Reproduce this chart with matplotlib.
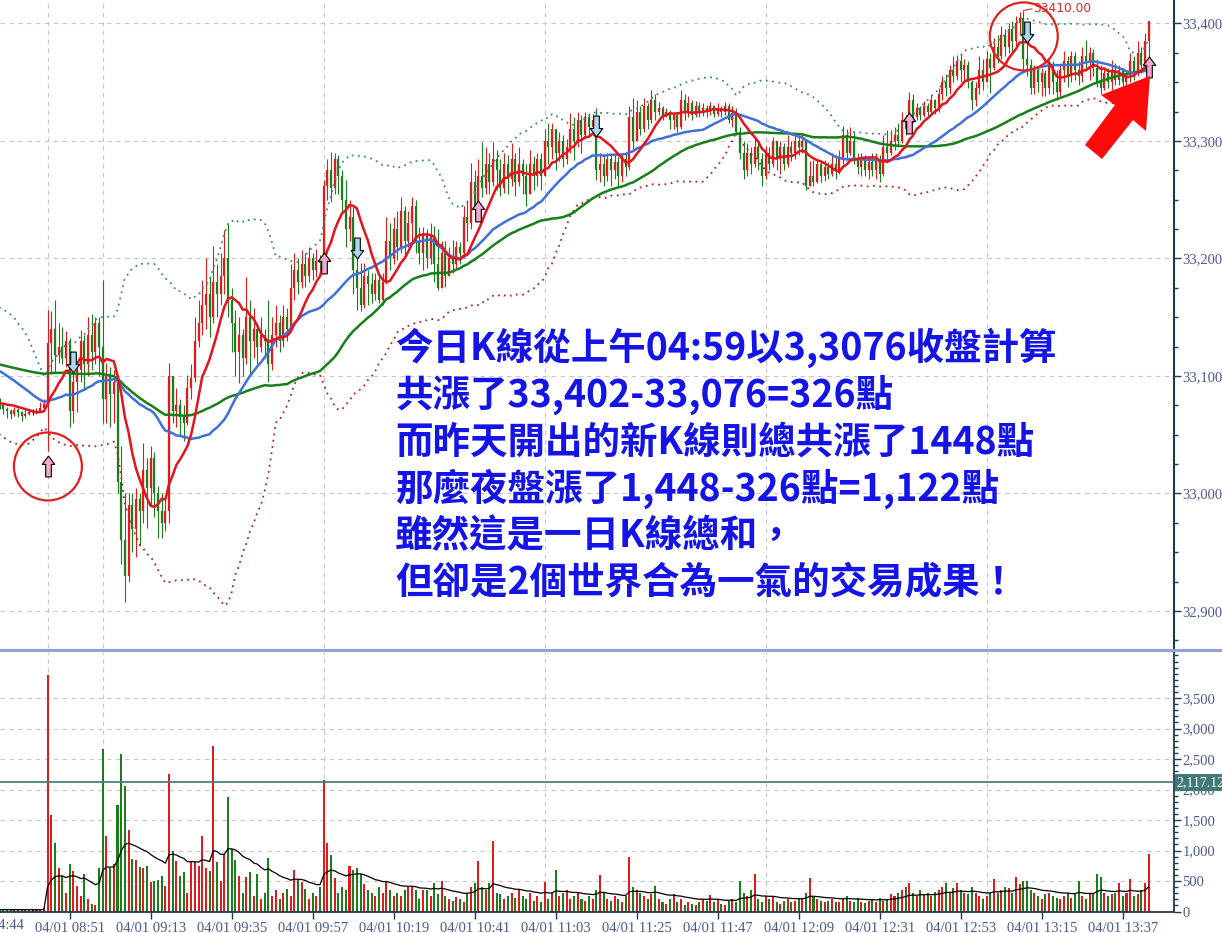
import numpy as np
import pandas as pd
import matplotlib
matplotlib.use('Agg')
import matplotlib.pyplot as plt
import matplotlib.transforms as mtransforms
from matplotlib.patches import Ellipse, Polygon
from matplotlib.path import Path
from matplotlib.lines import Line2D
from matplotlib.ticker import MultipleLocator, FuncFormatter

# closes before the visible window (only used to warm up the moving averages)
pre_close = [33110, 33118, 33112, 33120, 33115, 33108, 33116, 33122, 33114, 33119,
             33125, 33117, 33121, 33128, 33120, 33126, 33131, 33124, 33129, 33135,
             33130, 33136, 33141, 33134, 33138,
             33140, 33145, 33138, 33132, 33125, 33115, 33105, 33098, 33090, 33085,
             33080, 33083, 33078, 33075, 33079, 33072, 33076, 33080, 33074, 33078]

# 1-minute bars: night 04:45-04:59, day 08:45-13:44
close = [33078, 33080, 33076, 33072, 33070, 33068, 33071, 33069, 33066, 33068, 33069, 33069, 33070, 33073, 33076,
         33128, 33140, 33118, 33125, 33115, 33130, 33070, 33095, 33105, 33130, 33110, 33135, 33120, 33145, 33125,
         33080, 33100, 33085, 33095, 33010, 32960, 32930, 32990, 32970, 32995, 32985, 33020, 33005, 33030, 33000, 32985, 32975, 32985, 33100, 33070,
         33075, 33065, 33060, 33090, 33098, 33130, 33145, 33160, 33170, 33150, 33180, 33170, 33185, 33200, 33165, 33145, 33120, 33135, 33115, 33150,
         33130, 33140, 33125, 33135, 33130, 33110, 33135, 33145, 33130, 33150, 33140, 33175, 33190, 33180, 33195, 33185, 33200, 33190, 33198, 33196,
         33262, 33275, 33260, 33285, 33270, 33250, 33225, 33235, 33190, 33175, 33160, 33185, 33178, 33170, 33182, 33165, 33180, 33215, 33200, 33225,
         33210, 33240, 33215, 33230, 33245, 33215, 33205, 33220, 33200, 33220, 33195, 33175, 33205, 33185, 33200, 33195, 33210, 33205, 33235, 33230,
         33265, 33245, 33270, 33260, 33280, 33265, 33285, 33275, 33260, 33280, 33268, 33285, 33265, 33280, 33270, 33255, 33280, 33270, 33285, 33270,
         33300, 33295, 33310, 33290, 33300, 33285, 33295, 33310, 33300, 33318, 33305, 33320, 33312, 33318, 33275, 33280, 33270, 33285, 33275, 33282,
         33270, 33285, 33278, 33320, 33300, 33325, 33310, 33330, 33318, 33335, 33325, 33328, 33322, 33325, 33318, 33322, 33312, 33335, 33325, 33332,
         33322, 33330, 33324, 33328, 33325, 33330, 33323, 33328, 33325, 33330, 33318, 33324, 33308, 33290, 33275, 33290, 33280, 33295, 33285, 33270,
         33290, 33280, 33300, 33285, 33295, 33280, 33295, 33290, 33300, 33295, 33300, 33262, 33270, 33265, 33280, 33270, 33278, 33272, 33280, 33275,
         33285, 33305, 33290, 33300, 33285, 33278, 33285, 33275, 33282, 33275, 33285, 33272, 33295, 33290, 33300, 33305, 33300, 33318, 33310, 33335,
         33320, 33328, 33322, 33330, 33325, 33335, 33328, 33340, 33350, 33345, 33360, 33355, 33368, 33360, 33365, 33350, 33335, 33345, 33360, 33350,
         33370, 33362, 33380, 33372, 33390, 33380, 33395, 33385, 33400, 33405, 33370, 33365, 33345, 33360, 33350, 33358, 33345, 33365, 33350, 33342,
         33360, 33368, 33355, 33372, 33360, 33355, 33372, 33368, 33375, 33362, 33350, 33345, 33358, 33350, 33360, 33352, 33360, 33350, 33356, 33368,
         33358, 33375, 33365, 33385, 33402]

high = [33082, 33084, 33081, 33077, 33074, 33072, 33074, 33073, 33070, 33071, 33071, 33072, 33073, 33078, 33080,
        33156, 33155, 33165, 33145, 33142, 33138, 33132, 33113, 33108, 33139, 33135, 33150, 33153, 33150, 33150,
        33182, 33111, 33108, 33105, 33100, 33040, 33000, 33000, 33000, 33005, 33000, 33043, 33030, 33040, 33035, 33006, 33000, 32995, 33111, 33099,
        33090, 33080, 33075, 33101, 33110, 33150, 33165, 33182, 33200, 33185, 33211, 33195, 33205, 33224, 33230, 33175, 33156, 33150, 33140, 33184,
        33165, 33158, 33145, 33150, 33140, 33165, 33150, 33160, 33152, 33160, 33158, 33195, 33205, 33200, 33207, 33205, 33210, 33205, 33208, 33203,
        33267, 33285, 33291, 33290, 33288, 33275, 33267, 33250, 33244, 33210, 33196, 33196, 33190, 33188, 33188, 33185, 33188, 33235, 33230, 33235,
        33240, 33252, 33245, 33240, 33252, 33250, 33227, 33227, 33225, 33230, 33228, 33225, 33215, 33215, 33210, 33216, 33215, 33214, 33245, 33250,
        33281, 33275, 33285, 33299, 33295, 33290, 33299, 33292, 33285, 33290, 33288, 33298, 33290, 33295, 33285, 33280, 33292, 33287, 33290, 33290,
        33310, 33315, 33315, 33310, 33308, 33305, 33302, 33324, 33320, 33325, 33322, 33325, 33324, 33323, 33328, 33290, 33288, 33290, 33289, 33288,
        33286, 33290, 33289, 33330, 33337, 33335, 33330, 33337, 33332, 33343, 33340, 33333, 33330, 33328, 33326, 33325, 33324, 33343, 33340, 33338,
        33335, 33334, 33333, 33332, 33331, 33333, 33331, 33332, 33330, 33333, 33332, 33330, 33328, 33312, 33300, 33298, 33295, 33303, 33300, 33290,
        33296, 33295, 33303, 33300, 33300, 33298, 33305, 33300, 33306, 33305, 33306, 33302, 33283, 33284, 33285, 33282, 33284, 33282, 33290, 33288,
        33292, 33313, 33310, 33312, 33308, 33290, 33290, 33288, 33287, 33290, 33290, 33288, 33305, 33309, 33309, 33312, 33315, 33325, 33322, 33342,
        33340, 33332, 33330, 33334, 33332, 33340, 33336, 33345, 33355, 33357, 33365, 33372, 33373, 33375, 33370, 33368, 33352, 33350, 33372, 33370,
        33377, 33375, 33388, 33390, 33398, 33395, 33400, 33402, 33406, 33410, 33411, 33390, 33370, 33365, 33363, 33362, 33360, 33369, 33368, 33360,
        33365, 33377, 33372, 33377, 33376, 33368, 33380, 33386, 33380, 33378, 33370, 33365, 33362, 33362, 33369, 33366, 33365, 33362, 33360, 33375,
        33372, 33385, 33380, 33392, 33402]

low = [33074, 33076, 33072, 33068, 33064, 33063, 33066, 33065, 33062, 33064, 33067, 33067, 33068, 33070, 33071,
       33036, 33102, 33103, 33111, 33110, 33108, 33057, 33060, 33069, 33095, 33088, 33100, 33105, 33110, 33100,
       33060, 33060, 33057, 33060, 33000, 32940, 32908, 32925, 32950, 32946, 32955, 32975, 32971, 32990, 32980, 32962, 32962, 32968, 32975, 33060,
       33057, 33050, 33045, 33058, 33080, 33095, 33125, 33135, 33140, 33133, 33145, 33150, 33160, 33170, 33150, 33120, 33100, 33094, 33100, 33110,
       33102, 33115, 33110, 33120, 33115, 33095, 33105, 33125, 33120, 33125, 33130, 33138, 33165, 33170, 33175, 33176, 33180, 33182, 33184, 33188,
       33195, 33250, 33248, 33255, 33255, 33240, 33210, 33215, 33170, 33156, 33155, 33158, 33160, 33162, 33165, 33162, 33160, 33178, 33190, 33195,
       33199, 33205, 33200, 33210, 33215, 33205, 33195, 33190, 33192, 33195, 33180, 33173, 33175, 33176, 33190, 33188, 33192, 33195, 33200, 33215,
       33225, 33235, 33240, 33252, 33255, 33255, 33262, 33258, 33253, 33256, 33255, 33262, 33253, 33262, 33255, 33245, 33255, 33258, 33262, 33258,
       33270, 33280, 33285, 33275, 33283, 33278, 33280, 33290, 33284, 33295, 33290, 33302, 33305, 33306, 33267, 33265, 33262, 33266, 33262, 33268,
       33262, 33265, 33270, 33275, 33292, 33300, 33305, 33308, 33310, 33315, 33318, 33322, 33318, 33320, 33310, 33310, 33308, 33310, 33318, 33320,
       33318, 33320, 33320, 33321, 33320, 33322, 33320, 33321, 33320, 33322, 33315, 33312, 33305, 33285, 33268, 33270, 33272, 33278, 33275, 33262,
       33268, 33275, 33278, 33275, 33272, 33275, 33278, 33283, 33285, 33288, 33290, 33258, 33262, 33262, 33264, 33265, 33266, 33268, 33270, 33268,
       33272, 33280, 33285, 33288, 33280, 33272, 33270, 33270, 33268, 33270, 33268, 33265, 33270, 33285, 33288, 33292, 33295, 33298, 33305, 33315,
       33315, 33318, 33318, 33320, 33320, 33322, 33323, 33325, 33335, 33338, 33340, 33350, 33352, 33350, 33349, 33345, 33326, 33330, 33340, 33343,
       33350, 33341, 33360, 33366, 33370, 33372, 33375, 33377, 33380, 33390, 33360, 33355, 33340, 33340, 33342, 33338, 33338, 33340, 33340, 33335,
       33338, 33350, 33346, 33350, 33352, 33348, 33350, 33360, 33352, 33355, 33346, 33340, 33343, 33345, 33343, 33348, 33348, 33345, 33345, 33350,
       33352, 33355, 33358, 33360, 33355]

volume = [30, 45, 20, 35, 25, 40, 20, 30, 25, 35, 20, 30, 45, 25, 60,
          3880, 1580, 1130, 710, 580, 300, 780, 670, 420, 250, 615, 200, 120, 100, 710,
          2665, 1240, 710, 780, 1750, 2580, 2060, 1340, 860, 845, 730, 710, 745, 490, 505, 516, 580, 420, 2255, 990,
          830, 580, 650, 300, 815, 815, 745, 1240, 713, 665, 2720, 815, 500, 945, 1880, 1025, 845, 580, 300, 566,
          640, 250, 615, 200, 300, 880, 250, 350, 200, 300, 370, 250, 680, 516, 484, 370, 200, 300, 250, 400,
          2150, 1130, 930, 550, 300, 400, 350, 746, 680, 713, 615, 450, 350, 300, 250, 400, 300, 500, 350, 250,
          300, 250, 350, 400, 400, 350, 200, 350, 350, 260, 470, 280, 500, 250, 200, 180, 230, 200, 150, 300,
          400, 467, 830, 400, 350, 460, 1160, 300, 280, 200, 250, 300, 220, 350, 260, 200, 300, 180, 250, 150,
          484, 200, 300, 680, 250, 300, 350, 200, 260, 300, 200, 180, 250, 200, 350, 600, 300, 200, 180, 250,
          200, 150, 250, 890, 400, 350, 300, 250, 200, 280, 418, 200, 150, 120, 200, 280, 150, 200, 100, 150,
          120, 100, 150, 200, 180, 270, 150, 200, 120, 100, 180, 200, 150, 500, 300, 250, 350, 620, 200, 150,
          250, 200, 260, 150, 120, 180, 200, 150, 170, 200, 220, 300, 550, 240, 200, 180, 150, 180, 200, 150,
          150, 200, 260, 180, 150, 220, 160, 140, 180, 200, 150, 220, 180, 200, 290, 250, 300, 350, 400, 460,
          300, 250, 350, 280, 300, 250, 320, 350, 400, 467, 300, 380, 470, 350, 300, 280, 400, 300, 250, 200,
          250, 300, 526, 300, 350, 400, 380, 300, 560, 450, 500, 500, 350, 300, 250, 200, 280, 300, 250, 220,
          200, 250, 300, 220, 280, 500, 250, 200, 300, 280, 620, 570, 300, 250, 280, 300, 467, 250, 300, 526,
          250, 280, 350, 467, 945]

# signal arrows (bar index, price)
buy_idx = [15, 90, 132, 249, 314]
buy_px = [33023, 33196, 33240, 33315, 33363]
sell_idx = [22, 99, 164, 281]
sell_px = [33112, 33209, 33313, 33393]
peak_label = '33410.00'
ref_volume = 2117.12

note_lines = ['今日K線從上午04:59以3,3076收盤計算',
              '共漲了33,402-33,076=326點',
              '而昨天開出的新K線則總共漲了1448點',
              '那麼夜盤漲了1,448-326點=1,122點',
              '雖然這是一日K線總和，',
              '但卻是2個世界合為一氣的交易成果！']

times = pd.date_range('2019-04-01 04:45', '2019-04-01 04:59', freq='min').append(
    pd.date_range('2019-04-01 08:45', '2019-04-01 13:44', freq='min'))

RED = '#e01b1b'
GREEN = '#1b7d1b'
AXC = '#1f3a4d'
LBL = '#4b5a8c'
GRID = '#c6c6c6'

plt.rcParams['font.family'] = ['Liberation Serif', 'DejaVu Sans']

c = np.array(close, dtype=float)
h = np.array(high, dtype=float)
l = np.array(low, dtype=float)
v = np.array(volume, dtype=float)
n = len(c)
x = np.arange(n)
o = np.r_[pre_close[-1], c[:-1]]
cols = np.where(c > o, RED, np.where(c < o, GREEN, 'black'))

allc = pd.Series(pre_close + close, dtype=float)
k = len(pre_close)
ma10 = allc.rolling(10, min_periods=1).mean().values[k:]
ma30 = allc.rolling(30, min_periods=1).mean().values[k:]
ma60 = allc.rolling(60, min_periods=1).mean().values[k:]
sd30 = allc.rolling(30, min_periods=1).std(ddof=0).values[k:]
bb_up = ma30 + 2 * sd30
bb_dn = ma30 - 2 * sd30
vma = pd.Series(v).ewm(span=20, adjust=False).mean().values

fig = plt.figure(figsize=(12.22, 9.33), dpi=100)
ax = fig.add_axes([0, 285 / 933, 1174 / 1222, 648 / 933])
axv = fig.add_axes([0, 21 / 933, 1174 / 1222, 260 / 933])

xl = (2.09, 320.9)
hours = [i for i, t in enumerate(times) if t.minute == 0 or (t.hour == 8 and t.minute == 45)]
tick_idx = list(range(21, n, 22))
tick_lab = [times[i].strftime('%m/%d %H:%M') for i in tick_idx]

# ---------------- price panel
for xx in hours:
    ax.axvline(xx, color=GRID, lw=0.8, ls=(0, (4, 4)), zorder=0)
ax.vlines(x, np.minimum(l, np.minimum(o, c)), np.maximum(h, np.maximum(o, c)), colors=cols, lw=0.8, zorder=2)
ax.vlines(x, np.minimum(o, c), np.maximum(o, c), colors=cols, lw=1.6, zorder=2)
ax.plot(x, bb_up, color='#3a8a70', lw=1.3, ls=(0, (1, 2.5)), zorder=3)
ax.plot(x, bb_dn, color='#b52222', lw=1.3, ls=(0, (1, 2.5)), zorder=3)
ax.plot(x, ma60, color='#177f17', lw=1.8, zorder=4)
ax.plot(x, ma30, color='#3f6fd9', lw=1.8, zorder=4)
ax.plot(x, ma10, color='#e3141b', lw=1.8, zorder=5)

up_v = [(0, 1), (0.6, 0.2), (0.27, 0.2), (0.27, -1), (-0.27, -1), (-0.27, 0.2), (-0.6, 0.2), (0, 1)]
codes = [Path.MOVETO] + [Path.LINETO] * 6 + [Path.CLOSEPOLY]
up_arrow = Path(up_v, codes)
dn_arrow = Path([(a, -b) for a, b in up_v], codes)
ax.plot(buy_idx, buy_px, ls='none', marker=up_arrow, ms=15, mfc='#f4a9cf', mec='black', mew=0.8, zorder=6)
ax.plot(sell_idx, sell_px, ls='none', marker=dn_arrow, ms=15, mfc='#a9d9f2', mec='black', mew=0.8, zorder=6)

# red circles
for cx, cy in [(15.1, 33023), (280.1, 33389)]:
    ax.add_patch(Ellipse((cx, cy), 68 / 3.683, 68 / 1.175, fill=False, ec='#e02020', lw=1.6, zorder=7))

pk = int(np.argmax(h))
ax.plot([pk, pk + 2.3], [h[pk], h[pk] + 1.5], color='#d42a2a', lw=0.8, zorder=7)
ax.text(pk + 2.6, h[pk] + 2, peak_label, color='#d42a2a', fontsize=8.8, family='DejaVu Sans',
        ha='left', va='center', zorder=8)

for j, line in enumerate(note_lines):
    yfrac = (648 - (348 + 47 * j)) / 648
    ax.text(395 / 1174, yfrac, line, transform=ax.transAxes, color='#1414e8', fontsize=27,
            family=['Noto Sans CJK TC', 'DejaVu Sans'], fontweight='bold', ha='left', va='center', zorder=9)

ax.set_xlim(*xl)
ax.set_ylim(32868.5, 33420)
ax.yaxis.tick_right()
ax.set_yticks([32900, 33000, 33100, 33200, 33300, 33400])
ax.yaxis.set_minor_locator(MultipleLocator(25))
ax.yaxis.set_major_formatter(FuncFormatter(lambda val, p: f'{val:,.0f}'))
ax.yaxis.grid(True, color=GRID, lw=0.8, ls=(0, (4, 4)))
ax.tick_params(axis='y', which='major', direction='out', length=5, width=1, color=AXC,
               labelcolor=LBL, labelsize=10.5, pad=1)
ax.tick_params(axis='y', which='minor', direction='out', length=3, width=1, color=AXC)
ax.tick_params(axis='x', bottom=False, labelbottom=False)
for s in ['top', 'left', 'bottom']:
    ax.spines[s].set_visible(False)
ax.spines['right'].set_color(AXC)
ax.spines['right'].set_linewidth(1.5)

# ---------------- volume panel
for xx in hours:
    axv.axvline(xx, color=GRID, lw=0.8, ls=(0, (4, 4)), zorder=0)
axv.bar(x, v, width=0.55, color=cols, zorder=2)
axv.plot(x, vma, color='black', lw=0.9, zorder=3)
axv.axhline(ref_volume, color='#4d7f7b', lw=1.3, zorder=4)
axv.text(1.002, ref_volume, f'{ref_volume:,.2f}', transform=mtransforms.blended_transform_factory(axv.transAxes, axv.transData),
         color='white', fontsize=10, ha='left', va='center', clip_on=False, zorder=10,
         bbox=dict(boxstyle='square,pad=0.12', fc='#3f7a76', ec='none'))
axv.set_xlim(*xl)
axv.set_ylim(-8, 4256)
axv.yaxis.tick_right()
axv.set_yticks(range(0, 4000, 500))
axv.yaxis.set_minor_locator(MultipleLocator(100))
axv.yaxis.set_major_formatter(FuncFormatter(lambda val, p: f'{val:,.0f}'))
axv.yaxis.grid(True, color=GRID, lw=0.8, ls=(0, (4, 4)))
axv.tick_params(axis='y', which='major', direction='out', length=5, width=1, color=AXC,
                labelcolor=LBL, labelsize=10.5, pad=1)
axv.tick_params(axis='y', which='minor', direction='out', length=3, width=1, color=AXC)
axv.set_xticks(tick_idx)
axv.set_xticklabels(tick_lab)
axv.tick_params(axis='x', direction='out', length=5, width=1, color=AXC, labelcolor=LBL, labelsize=10.5, pad=2)
axv.text(-1, -0.028, '04/01 04:44', transform=mtransforms.blended_transform_factory(axv.transData, axv.transAxes),
         color=LBL, fontsize=10.5, ha='center', va='top', clip_on=False)
for s in ['top', 'left']:
    axv.spines[s].set_visible(False)
for s in ['right', 'bottom']:
    axv.spines[s].set_color(AXC)
    axv.spines[s].set_linewidth(1.3)

# separator between panels
fig.add_artist(Line2D([0, 1], [283 / 933, 283 / 933], transform=fig.transFigure, color='#8fa2dc', lw=2.2))

# big red arrow pointing at the last bar
arrow_px = [(1150, 76), (1146, 131), (1133, 120), (1102, 159), (1085, 145), (1115, 105), (1101, 95)]
fig.add_artist(Polygon([(px / 1222, 1 - py / 933) for px, py in arrow_px], closed=True,
                       transform=fig.transFigure, fc='#ff0a0a', ec='none', zorder=20))

fig.savefig('out.png', dpi=100)
